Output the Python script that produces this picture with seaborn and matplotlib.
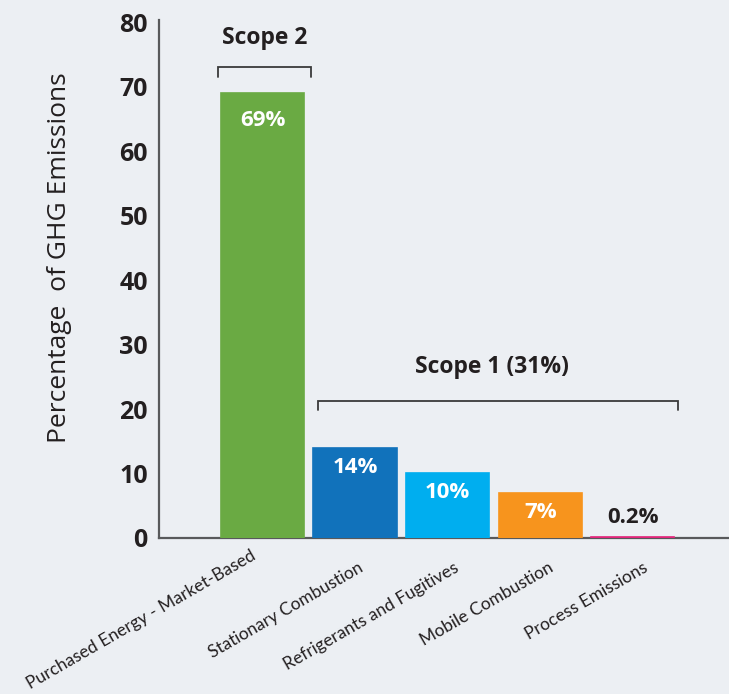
import matplotlib
matplotlib.use("Agg")
import matplotlib.pyplot as plt
import matplotlib.transforms as mtransforms
import seaborn as sns
import pandas as pd

# Emission sources and their share of total GHG emissions (%)
categories = [
    "Purchased Energy - Market-Based",
    "Stationary Combustion",
    "Refrigerants and Fugitives",
    "Mobile Combustion",
    "Process Emissions",
]
shares = [69, 14, 10, 7, 0.2]
share_labels = ["69%", "14%", "10%", "7%", "0.2%"]
bar_colors = ["#6aaa43", "#1172bb", "#00aeef", "#f7941d", "#e3267b"]
y_ticks = [0, 10, 20, 30, 40, 50, 60, 70, 80]
scope2_label = "Scope 2"
scope1_label = "Scope 1 (31%)"

BG = "#eceff3"
INK = "#231f20"
bold_font = ["Open Sans", "DejaVu Sans"]
label_font = ["Lato", "Open Sans", "DejaVu Sans"]

sns.set_theme(style="white")
plt.rcParams["font.family"] = bold_font

df = pd.DataFrame({"source": categories, "share": shares})

fig = plt.figure(figsize=(7.29, 6.94), dpi=100, facecolor=BG)
ax = fig.add_axes([0.218, 0.2248, 0.782, 0.7462], facecolor=BG)

sns.barplot(data=df, x="source", y="share", hue="source",
            palette=bar_colors, width=0.9, saturation=1, legend=False,
            ax=ax)
for p in ax.patches:
    p.set_zorder(3)
    p.set_edgecolor(p.get_facecolor())
    p.set_linewidth(1.2)

ax.set_xlim(-1.12, 5.04)
ax.set_ylim(0, 80.3)
ax.set_yticks(y_ticks)
ax.set_yticklabels([str(t) for t in y_ticks], fontsize=18, fontweight="bold",
                   color=INK)
ax.tick_params(axis="both", length=0)
ax.tick_params(axis="y", pad=8)

ax.set_xticks(range(len(categories)))
ax.set_xticklabels(categories, rotation=30, ha="right", va="top",
                   rotation_mode="anchor", fontsize=12.5, color=INK,
                   family=label_font)
ax.tick_params(axis="x", pad=6)
# small nudges (pixels) for the slanted category labels
nudges = [(-12, -1), (3, -13), (6, -13), (8, -13), (10, -13)]
for lbl, (dx, dy) in zip(ax.get_xticklabels(), nudges):
    shift = mtransforms.ScaledTranslation(dx / 100, dy / 100, fig.dpi_scale_trans)
    lbl.set_transform(lbl.get_transform() + shift)

ax.set_xlabel("")
ax.set_ylabel("Percentage  of GHG Emissions", fontsize=19, color=INK,
              fontweight="normal", family=bold_font)
ax.yaxis.set_label_coords(-0.152, 0.542)

for side in ["top", "right"]:
    ax.spines[side].set_visible(False)
for side in ["left", "bottom"]:
    ax.spines[side].set_color("#58595b")
    ax.spines[side].set_linewidth(1.6)
    ax.spines[side].set_zorder(2)

# value labels: inside the bar (white) when tall enough, above otherwise
for i, (v, txt) in enumerate(zip(shares, share_labels)):
    if v >= 5:
        drop = 4.3 if v > 50 else 3.0
        ax.text(i, v - drop, txt, ha="center", va="center", color="white",
                fontsize=16, fontweight="bold", zorder=4)
    else:
        ax.text(i, v + 2.9, txt, ha="center", va="center", color=INK,
                fontsize=16, fontweight="bold", zorder=4)


def bracket(x0, x1, y, leg, text, ty, dx=0.0):
    ax.plot([x0, x0, x1, x1], [y - leg, y, y, y - leg], color="#3a3a3a",
            lw=1.3, solid_joinstyle="miter", clip_on=False)
    ax.text((x0 + x1) / 2 + dx, ty, text, ha="center", va="center", color=INK,
            fontsize=16.5, fontweight="bold")


bracket(-0.48, 0.52, 73.0, 1.5, scope2_label, 77.5)
bracket(0.60, 4.49, 21.2, 1.4, scope1_label, 26.5, dx=-0.07)

fig.savefig("out.png", dpi=100, facecolor=BG)
